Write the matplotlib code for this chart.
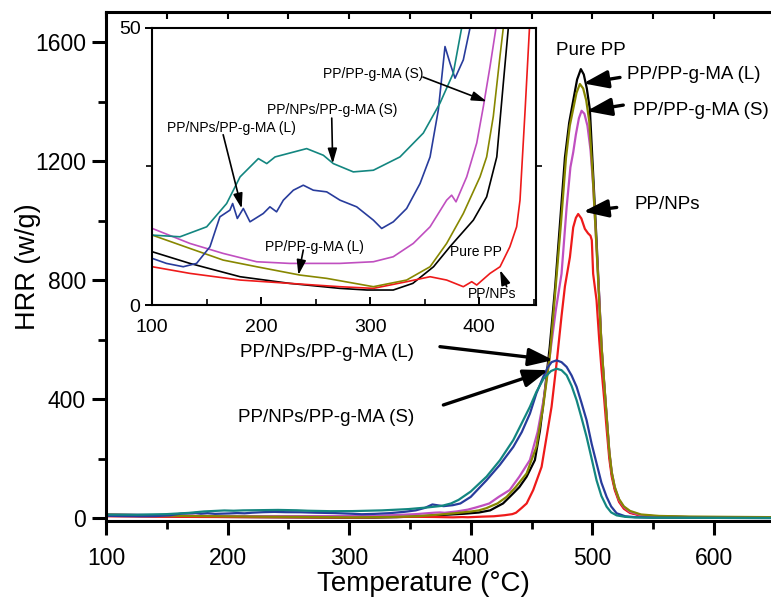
import matplotlib
matplotlib.use("Agg")
import matplotlib.pyplot as plt
from matplotlib.ticker import MultipleLocator, FixedLocator

plt.rcParams['font.family'] = ['Liberation Sans', 'DejaVu Sans']

# ---------------- data ----------------
T_pure = [100, 134.5, 180.5, 226, 272, 297, 321, 339, 358, 373, 394.5, 406.7, 416, 422, 426.6,
          435, 440, 446, 452.8, 457, 461, 465, 469.5, 473.4, 477.5, 481, 484.3, 487.5, 490.6, 493,
          495.5, 498, 500.7, 503.5, 505.7, 507.6, 509.8, 511.8, 514, 516, 518.5, 522, 526, 531,
          540, 555, 580, 610, 647]
HRR_pure = [9.6, 7.5, 5.1, 3.9, 3.0, 2.7, 2.7, 3.9, 6.9, 10.5, 15.3, 19.5, 26.7, 40, 50,
            84, 105, 140, 196, 296, 430, 576, 780, 990, 1213, 1330, 1404, 1475, 1510, 1492,
            1445, 1375, 1158, 934, 744, 576, 450, 340, 220, 150, 100, 60, 35, 20,
            10, 6, 4, 3, 2]

T_ppma_L = [100, 134.5, 165, 195.7, 235.4, 260, 302.8, 333.3, 354.8, 370, 385.3, 400.6, 406.7,
            412.8, 418.9, 422, 429.5, 437, 446, 454, 459.6, 465, 469.2, 474.2, 478.4, 481.5,
            484.5, 487, 489.8, 492.5, 495, 497.5, 500.5, 503.3, 505.5, 507.6, 509.8, 511.8,
            514, 516, 518.5, 522, 526, 531, 540, 555, 580, 610, 647]
HRR_ppma_L = [12.6, 10.2, 8.1, 6.9, 5.4, 4.8, 3.3, 4.5, 6.9, 11.1, 16.5, 23.1, 26.7,
              34.0, 44.8, 50, 72, 105, 151, 240, 375, 542, 744, 990, 1213, 1320,
              1380, 1430, 1460, 1445, 1405, 1335, 1140, 925, 744, 580, 455, 345,
              225, 155, 105, 65, 40, 25, 13, 8, 6, 5, 4]

T_ppma_S = [100, 134.5, 165, 195.7, 226, 272, 302.8, 321, 339.4, 354.8, 370, 374.6, 378.6,
            388.4, 397.6, 403.7, 409.8, 415.3, 423, 432, 440, 448.7, 455, 460, 465, 470,
            474.7, 478.9, 482, 484.3, 486.5, 489, 491.2, 493.5, 496, 498.5, 500.7, 503.5,
            505.7, 507.6, 509.8, 511.8, 514, 516, 518.5, 522, 526, 531, 540, 555, 580, 610, 647]
HRR_ppma_S = [13.8, 11.1, 9.3, 7.8, 7.5, 7.5, 7.8, 8.7, 11.1, 14.1, 18.9, 19.8, 18.6,
              23.1, 29.2, 35.8, 43.0, 50, 72, 95, 140, 196, 290, 400, 545, 700,
              822, 1046, 1180, 1230, 1290, 1345, 1370, 1360, 1320, 1240, 1120, 910,
              744, 580, 455, 345, 225, 155, 105, 62, 38, 22, 11, 6, 4, 3.5, 3]

T_nps = [100, 134.5, 180.5, 226, 272, 302.8, 333.3, 354.8, 370, 385.3, 393, 397.6, 409.8, 419,
         428, 434.2, 437.3, 442, 446, 451.4, 458.3, 462.4, 466.5, 470.6, 474.7, 477.5, 481.6,
         484.3, 486.5, 488.4, 491, 493.9, 496.5, 498.5, 499.6, 500.7, 503.5, 505.7, 507.6,
         509.8, 511.8, 514, 516, 518.5, 522, 526, 531, 540, 555, 580, 610, 647]
HRR_nps = [6.9, 5.7, 4.5, 3.9, 3.3, 3.0, 4.2, 5.1, 4.5, 3.3, 4.2, 3.6, 5.7, 6.9,
           10.5, 14.1, 18.9, 35.2, 50, 95, 173, 274, 375, 520, 680, 780, 878,
           978, 1010, 1023, 1008, 973, 958, 950, 935, 822, 733, 600, 500,
           400, 300, 200, 140, 95, 55, 32, 18, 9, 5, 3.5, 3, 2.5]

T_nps_ma_L = [100, 113, 128.4, 140.6, 152.9, 162, 171.2, 173.7, 178, 183.5, 189.6, 201.8, 207.9,
              214, 220.2, 229.4, 238.5, 247.7, 260, 272.2, 287.5, 302.8, 310.4, 321.1, 333.3,
              345.6, 354.8, 362.4, 368.5, 373.1, 377.7, 385.3, 391.5, 400, 413, 424, 435, 442,
              448.7, 454, 459.6, 463, 466.5, 470.6, 474.7, 478.9, 483, 487.1, 491, 495.3, 499.5,
              503.5, 507.5, 511.8, 515.5, 520, 527, 535, 550, 600, 647]
HRR_nps_ma_L = [8.4, 7.5, 6.9, 7.5, 10.5, 15.9, 17.1, 18.3, 15.6, 17.4, 15.0, 16.5, 17.7,
                16.8, 18.9, 20.7, 21.6, 20.7, 20.4, 18.9, 17.7, 15.3, 13.8, 15.0, 17.4,
                21.9, 26.7, 35.2, 46.6, 43.6, 40.9, 44.2, 50, 72, 128, 180, 240, 290,
                352, 420, 475, 505, 525, 531, 525, 509, 480, 442, 390, 330, 250,
                185, 120, 72, 40, 17, 7, 4, 2, 1.5, 1]

T_nps_ma_S = [100, 125.4, 149.9, 168.2, 180.5, 197.3, 205, 212.6, 241.6, 256.9, 266, 284.4,
              302.8, 327.2, 348.6, 363.9, 376.1, 383.8, 390, 400, 413, 424, 435, 442, 448.7,
              454, 460, 466, 470.6, 474.7, 478.9, 483, 487.1, 491, 495.3, 499.5, 503.5, 507.5,
              511.8, 515.5, 520, 527, 535, 550, 600, 647]
HRR_nps_ma_S = [12.6, 12.3, 14.1, 18.3, 23.1, 26.4, 25.5, 26.7, 28.2, 27.0, 25.5, 24.0,
                24.3, 26.7, 31.0, 36.4, 41.8, 50, 62, 90, 140, 195, 263, 320, 375,
                425, 470, 495, 503, 498, 481, 445, 397, 340, 274, 200, 128, 75,
                39, 20, 10, 5, 3, 2, 1.5, 1]

series = [
    (T_pure, HRR_pure, '#000000'),
    (T_nps, HRR_nps, '#ee1a1a'),
    (T_ppma_S, HRR_ppma_S, '#c04fc0'),
    (T_ppma_L, HRR_ppma_L, '#878700'),
    (T_nps_ma_L, HRR_nps_ma_L, '#283c9c'),
    (T_nps_ma_S, HRR_nps_ma_S, '#138680'),
]

x_ticks = [100, 200, 300, 400, 500, 600]
y_ticks = [0, 400, 800, 1200, 1600]
inset_x_ticks = [100, 200, 300, 400]
inset_y_ticks = [0, 50]

# ---------------- figure ----------------
fig = plt.figure(figsize=(7.71, 6.01), dpi=100)
ax = fig.add_axes([106 / 771, 80 / 601, 665 / 771, 509 / 601])

for T, H, c in series:
    ax.plot(T, H, color=c, lw=1.6, solid_joinstyle='round')

ax.set_xlim(100, 647)
ax.set_ylim(-9, 1702)
ax.set_xticks(x_ticks)
ax.set_yticks(y_ticks)
ax.xaxis.set_minor_locator(MultipleLocator(50))
ax.yaxis.set_minor_locator(MultipleLocator(200))
ax.tick_params(axis='x', which='major', direction='out', length=10, width=2.2,
               labelsize=16.5, pad=8.5)
ax.tick_params(axis='x', which='minor', direction='out', length=6, width=2)
ax.tick_params(axis='y', which='major', direction='out', length=10, width=2.2,
               labelsize=16.5, pad=4.5)
ax.tick_params(axis='y', which='minor', direction='out', length=6, width=2)
for s in ['left', 'bottom', 'top']:
    ax.spines[s].set_linewidth(2.2)
ax.spines['right'].set_visible(False)

ax.set_xlabel('Temperature (°C)', fontsize=20)
ax.xaxis.set_label_coords(0.4767, -0.1235)
ax.xaxis.label.set_verticalalignment('center')
ax.set_ylabel('HRR (w/g)', fontsize=19.5)
ax.yaxis.set_label_coords(-0.118, 0.5)
ax.yaxis.label.set_verticalalignment('center')

# top ticks (inward)
axt = ax.twiny()
axt.set_xlim(ax.get_xlim())
axt.xaxis.set_major_locator(MultipleLocator(100))
axt.xaxis.set_minor_locator(MultipleLocator(50))
axt.tick_params(axis='x', which='both', direction='in', length=5, width=1.5,
                top=True, bottom=False, labeltop=False, labelbottom=False)
for s in axt.spines.values():
    s.set_visible(False)

# main annotations
arrow_main = dict(arrowstyle='-|>,head_length=0.75,head_width=0.27', lw=2.4, color='k',
                  mutation_scale=20, shrinkA=0, shrinkB=0)
fs_main = 13.5
ax.text(498.9, 1574, 'Pure PP', fontsize=fs_main, ha='center', va='center')
ax.text(528.3, 1493, 'PP/PP-g-MA (L)', fontsize=fs_main, ha='left', va='center')
ax.annotate('', xy=(492.6, 1462), xytext=(522.8, 1482), arrowprops=arrow_main)
ax.text(533.5, 1371, 'PP/PP-g-MA (S)', fontsize=fs_main, ha='left', va='center')
ax.annotate('', xy=(495.4, 1369), xytext=(525.5, 1389), arrowprops=arrow_main)
ax.text(535.1, 1056, 'PP/NPs', fontsize=fs_main, ha='left', va='center')
ax.annotate('', xy=(492.6, 1031), xytext=(520.1, 1045), arrowprops=arrow_main)
ax.text(210.2, 556, 'PP/NPs/PP-g-MA (L)', fontsize=fs_main, ha='left', va='center')
ax.annotate('', xy=(467.9, 532), xytext=(374.7, 577), arrowprops=arrow_main)
ax.text(208.8, 340, 'PP/NPs/PP-g-MA (S)', fontsize=fs_main, ha='left', va='center')
ax.annotate('', xy=(463.8, 498), xytext=(377.5, 381), arrowprops=arrow_main)

# ---------------- inset ----------------
axi = fig.add_axes([152.3 / 771, (601 - 305) / 601, 383.4 / 771, 277.3 / 601])
for T, H, c in series:
    axi.plot(T, H, color=c, lw=1.2)
axi.set_xlim(100, 451.7)
axi.set_ylim(0, 50)
axi.set_xticks(inset_x_ticks)
axi.xaxis.set_minor_locator(FixedLocator([150, 250, 350, 450]))
axi.set_yticks(inset_y_ticks)
axi.yaxis.set_minor_locator(FixedLocator([25]))
axi.tick_params(axis='x', which='major', direction='in', length=6, width=1.4,
                labelsize=14, pad=10)
axi.tick_params(axis='x', which='minor', direction='in', length=4, width=1.2)
axi.tick_params(axis='y', which='major', direction='out', length=5, width=1.4,
                labelsize=14, pad=3.5)
axi.tick_params(axis='y', which='minor', direction='out', length=4, width=1.2, right=True)
for s in axi.spines.values():
    s.set_linewidth(1.5)

arrow_in = dict(arrowstyle='-|>,head_length=0.9,head_width=0.28', lw=1.2, color='k',
                mutation_scale=10, shrinkA=0, shrinkB=0)
fs_in = 10
axi.text(256.6, 41.65, 'PP/PP-g-MA (S)', fontsize=fs_in, ha='left', va='center')
axi.annotate('', xy=(406.8, 36.7), xytext=(348.3, 41.1), arrowprops=arrow_in)
axi.text(205, 35.2, 'PP/NPs/PP-g-MA (S)', fontsize=fs_in, ha='left', va='center')
axi.annotate('', xy=(265.5, 25.5), xytext=(264.6, 33.7), arrowprops=arrow_in)
axi.text(113.2, 31.9, 'PP/NPs/PP-g-MA (L)', fontsize=fs_in, ha='left', va='center')
axi.annotate('', xy=(182, 17.4), xytext=(165, 30.7), arrowprops=arrow_in)
axi.text(203.4, 10.5, 'PP/PP-g-MA (L)', fontsize=fs_in, ha='left', va='center')
axi.annotate('', xy=(234, 5.4), xytext=(238.5, 9.9), arrowprops=arrow_in)
axi.text(373.1, 9.5, 'Pure PP', fontsize=fs_in, ha='left', va='center')
axi.text(389.6, 1.9, 'PP/NPs', fontsize=fs_in, ha='left', va='center')
axi.annotate('', xy=(419, 6.3), xytext=(425.1, 3.3), arrowprops=arrow_in)

fig.savefig('out.png', dpi=100)
